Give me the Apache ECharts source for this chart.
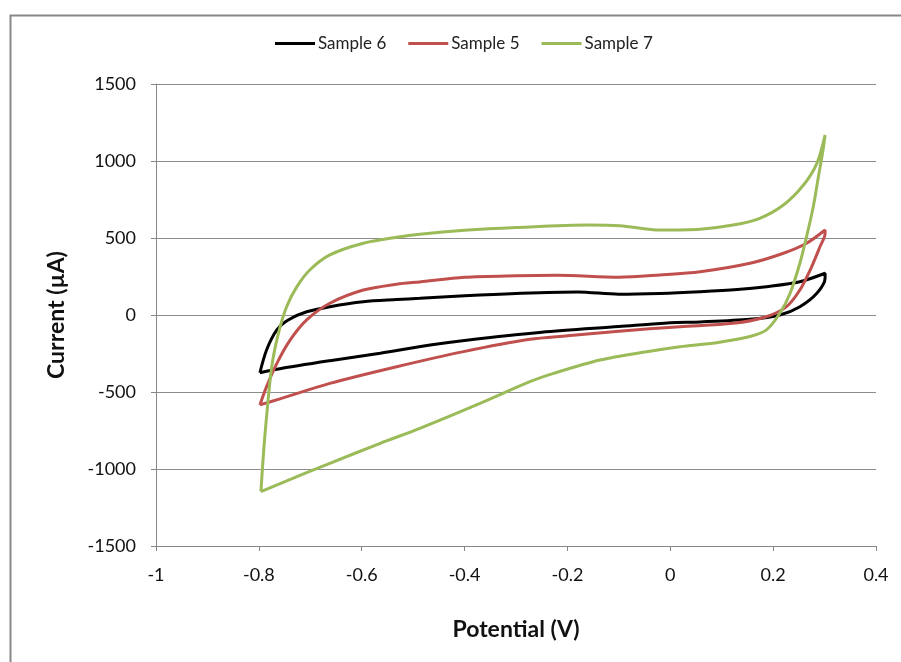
<!DOCTYPE html>
<html>
<head>
<meta charset="utf-8">
<script src="https://cdn.jsdelivr.net/npm/echarts@6/dist/echarts.min.js"></script>
<style>
  html, body { margin: 0; padding: 0; background: #fff; }
  #chart { width: 901px; height: 662px; }
</style>
</head>
<body>
<div id="chart"></div>
<script>
// potential (V) / current (uA), each loop in scan order (forward sweep then back)
const sample6X = [-0.798, -0.785, -0.765, -0.743, -0.707, -0.662, -0.597, -0.532, -0.487, -0.40, -0.30, -0.18, -0.10, -0.02, 0.058, 0.13, 0.187, 0.252, 0.301,
  0.301, 0.285, 0.252, 0.213, 0.155, 0.058, 0.0, -0.10, -0.25, -0.40, -0.467, -0.564, -0.662, -0.765, -0.798]
const sample6Y = [-375, -227, -97, -32, 21, 54, 86, 100, 108, 125, 140, 150, 135, 140, 151, 165, 184, 216, 271,
  238, 141, 54, 0, -28, -45, -50, -75, -112, -165, -195, -248, -297, -352, -375]

const sample5X = [-0.798, -0.785, -0.765, -0.739, -0.707, -0.662, -0.597, -0.532, -0.487, -0.40, -0.30, -0.22, -0.10, -0.02, 0.058, 0.155, 0.220, 0.265, 0.301,
  0.301, 0.291, 0.272, 0.252, 0.226, 0.187, 0.122, 0.019, -0.10, -0.20, -0.273, -0.402, -0.532, -0.662, -0.759, -0.798]
const sample5Y = [-584, -465, -314, -162, -32, 76, 162, 200, 215, 245, 255, 258, 245, 260, 281, 336, 401, 466, 552,
  530, 443, 292, 162, 54, -11, -54, -76, -105, -135, -158, -238, -336, -444, -545, -584]

const sample7X = [-0.796, -0.791, -0.785, -0.775, -0.762, -0.746, -0.726, -0.701, -0.662, -0.597, -0.532, -0.487, -0.40, -0.30, -0.16, -0.098, -0.02, 0.058, 0.122, 0.174, 0.220, 0.259, 0.285, 0.301,
  0.297, 0.288, 0.278, 0.265, 0.252, 0.233, 0.213, 0.187, 0.155, 0.090, 0.019, -0.046, -0.137, -0.227, -0.273, -0.370, -0.487, -0.564, -0.662, -0.726, -0.796]
const sample7Y = [-1147, -898, -660, -336, -119, 54, 184, 292, 390, 466, 505, 525, 550, 568, 584, 580, 552, 557, 584, 628, 714, 844, 985, 1169,
  1071, 898, 703, 509, 336, 141, 11, -97, -140, -180, -206, -238, -292, -379, -433, -574, -736, -833, -963, -1050, -1147]

const xTicks = [-1, -0.8, -0.6, -0.4, -0.2, 0, 0.2, 0.4]
const yTicks = [-1500, -1000, -500, 0, 500, 1000, 1500]

const pairs = (xs, ys) => xs.map((x, i) => [x, ys[i]])

const series = [
  { name: 'Sample 6', color: '#000000', data: pairs(sample6X, sample6Y) },
  { name: 'Sample 5', color: '#C0504D', data: pairs(sample5X, sample5Y) },
  { name: 'Sample 7', color: '#9BBB59', data: pairs(sample7X, sample7Y) }
].map(s => ({
  name: s.name,
  type: 'line',
  data: s.data,
  smooth: 0.3,
  showSymbol: false,
  color: s.color,
  lineStyle: { color: s.color, width: 3 }
}))

const chart = echarts.init(document.getElementById('chart'))
chart.setOption({
  animation: false,
  textStyle: { fontFamily: 'Lato, "Open Sans", sans-serif' },
  graphic: [{
    type: 'rect',
    left: 8,
    top: 13,
    shape: { width: 1000, height: 1000 },
    style: { fill: 'none', stroke: '#888', lineWidth: 2 },
    silent: true
  }],
  legend: {
    top: 30,
    left: 270,
    icon: 'rect',
    itemWidth: 40,
    itemHeight: 3,
    itemGap: 22,
    textStyle: { fontSize: 17, color: '#222', padding: [0, 0, 0, -2] },
    data: series.map(s => s.name)
  },
  grid: { left: 156, right: 25, top: 84, bottom: 116 },
  xAxis: {
    type: 'value',
    min: xTicks[0],
    max: xTicks[xTicks.length - 1],
    interval: 0.2,
    name: 'Potential (V)',
    nameLocation: 'middle',
    nameGap: 72,
    nameTextStyle: { fontSize: 23, fontWeight: 'bold', color: '#111' },
    axisLine: { onZero: false, lineStyle: { color: '#868686' } },
    axisTick: { length: 5, lineStyle: { color: '#868686' } },
    axisLabel: { margin: 20, fontSize: 18, color: '#111', formatter: v => String(Math.round(v * 10) / 10) },
    splitLine: { show: false }
  },
  yAxis: {
    type: 'value',
    min: yTicks[0],
    max: yTicks[yTicks.length - 1],
    interval: 500,
    name: 'Current (µA)',
    nameLocation: 'middle',
    nameGap: 88,
    nameTextStyle: { fontSize: 23, fontWeight: 'bold', color: '#111' },
    axisLine: { show: true, onZero: false, lineStyle: { color: '#868686' } },
    axisTick: { show: true, length: 5, lineStyle: { color: '#868686' } },
    axisLabel: { margin: 20, fontSize: 18, color: '#111', formatter: v => String(v) },
    splitLine: { lineStyle: { color: '#8c8c8c', width: 1 } }
  },
  series: series
})
</script>
</body>
</html>
